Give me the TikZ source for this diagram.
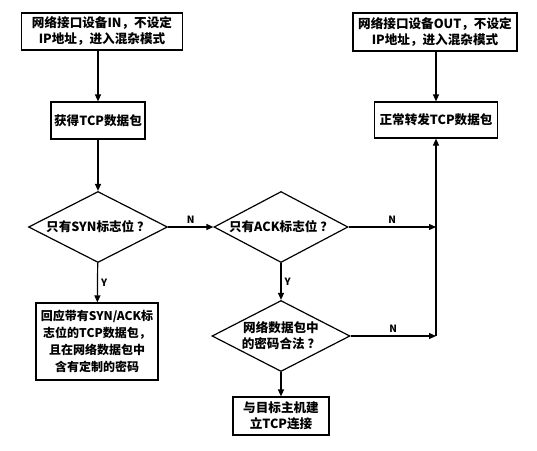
\documentclass[tikz,border=0pt]{standalone}
\usepackage{fontspec}
\setmainfont{Noto Sans CJK SC}
\usetikzlibrary{shapes.geometric,arrows.meta}
\begin{document}
\begin{tikzpicture}[x=1pt, y=-1pt, font=\bfseries\fontsize{12.6}{16}\selectfont,
		box/.style={draw, line width=1.2pt, align=center, inner sep=0pt},
		dia/.style={draw, diamond, aspect=2, line width=1.2pt, align=center, inner sep=0pt},
		arr/.style={-{Triangle[length=7pt,width=6pt]}, line width=1.2pt},
		lab/.style={font=\bfseries\fontsize{10}{12}\selectfont, inner sep=3pt}]
		\useasboundingbox (0,0) rectangle (537,450);
		% left column: incoming interface
		\node[box, minimum width=161, minimum height=37] (in) at (102,31.5) {网络接口设备IN，不设定\\IP地址，进入混杂模式};
		\node[box, minimum width=94, minimum height=37] (get) at (98,120.5) {获得TCP数据包};
		\node[dia, minimum width=139, minimum height=71] (syn) at (98,227) {只有SYN标志位 ？};
		\node[box, minimum width=122, minimum height=77, font=\bfseries\fontsize{12}{17}\selectfont] (reply) at (97,341.5) {回应带有SYN/ACK标\\志位的TCP数据包，\\且在网络数据包中\\含有定制的密码};
		% middle column
		\node[dia, minimum width=134, minimum height=71] (ack) at (281,227) {只有ACK标志位 ？};
		\node[dia, minimum width=138, minimum height=71] (pwd) at (281,336) {网络数据包中\\的密码合法 ？};
		\node[box, minimum width=96, minimum height=38] (conn) at (281,416) {与目标主机建\\立TCP连接};
		% right column: outgoing interface
		\node[box, minimum width=164, minimum height=38] (out) at (435,32) {网络接口设备OUT，不设定\\IP地址，进入混杂模式};
		\node[box, minimum width=123, minimum height=36] (fwd) at (436,120) {正常转发TCP数据包};
		\coordinate (j1) at (fwd.south |- ack.east);
		\coordinate (j2) at (fwd.south |- pwd.east);
		\draw[arr] (get.north |- in.south) -- (get.north);
		\draw[arr] (get) -- (syn);
		\draw[arr] (syn.east) -- node[lab, above]{N} (ack.west);
		\draw[arr] (syn) -- node[lab, right]{Y} (reply);
		\draw[arr] (ack) -- node[lab, right]{Y} (pwd);
		\draw[arr] (pwd) -- (conn);
		\draw[arr] (fwd.north |- out.south) -- (fwd.north);
		\draw[arr] (ack.east) -- node[lab, above]{N} (j1);
		\draw[arr] (pwd.east) -- node[lab, above]{N} (j2);
		\draw[arr] (j2) -- (fwd.south);
	\end{tikzpicture}
\end{document}
